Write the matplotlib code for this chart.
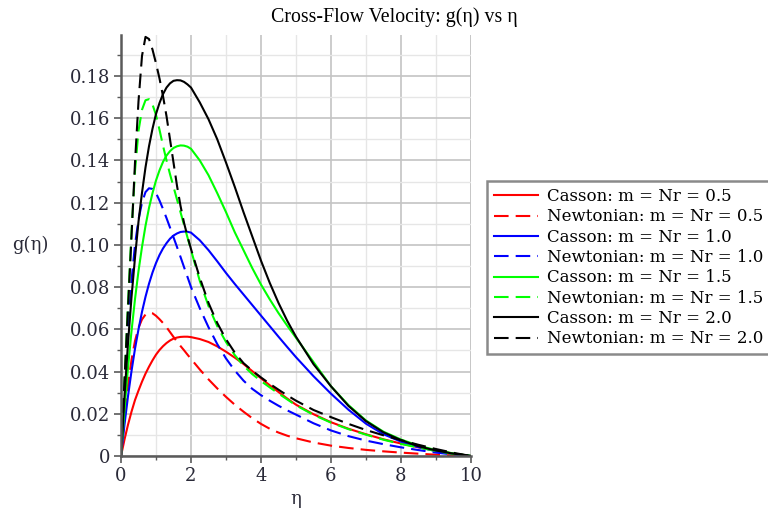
import matplotlib
matplotlib.use("Agg")
import matplotlib.pyplot as plt
from matplotlib.ticker import MultipleLocator, FuncFormatter

# eta grid the values were read on
eta = [0, 0.1, 0.2, 0.3, 0.4, 0.5, 0.6, 0.7, 0.8, 0.9,
       1.0, 1.1, 1.2, 1.3, 1.4, 1.5, 1.6, 1.7, 1.8, 1.9,
       2.0, 2.25, 2.5, 2.75, 3.0, 3.25, 3.5, 3.75, 4.0, 4.25, 4.5, 4.75,
       5.0, 5.5, 6.0, 6.5, 7.0, 7.5, 8.0, 8.5, 9.0, 9.5, 10.0]

# Casson (solid)
g_casson_05 = [0, 0.0078, 0.0148, 0.021, 0.0265, 0.031, 0.0352, 0.039, 0.0423, 0.0453,
               0.048, 0.0502, 0.052, 0.0535, 0.0547, 0.0556, 0.0561, 0.0564, 0.0565, 0.0565,
               0.0563, 0.0554, 0.054, 0.0519, 0.0494, 0.0466, 0.0436, 0.0402, 0.0368, 0.0335,
               0.0303, 0.0272, 0.0243, 0.0198, 0.016, 0.0129, 0.0103, 0.0079, 0.0059, 0.0041,
               0.0025, 0.0011, 0]
g_casson_10 = [0, 0.0149, 0.0283, 0.0402, 0.0508, 0.060, 0.0683, 0.0754, 0.0816, 0.0869,
               0.0914, 0.0952, 0.0983, 0.1008, 0.1029, 0.1044, 0.1054, 0.1061, 0.1063, 0.1062,
               0.1058, 0.1022, 0.0975, 0.0922, 0.0867, 0.0815, 0.0765, 0.0715, 0.0665, 0.0615,
               0.0565, 0.0516, 0.0468, 0.0378, 0.0295, 0.0219, 0.0153, 0.0103, 0.0068, 0.0042,
               0.0023, 0.001, 0]
g_casson_15 = [0, 0.022, 0.0418, 0.0591, 0.0743, 0.0876, 0.099, 0.109, 0.1175, 0.1245,
               0.1305, 0.1353, 0.1393, 0.1423, 0.1444, 0.1459, 0.1467, 0.1471, 0.147, 0.1465,
               0.1455, 0.140, 0.133, 0.1245, 0.1155, 0.106, 0.0975, 0.089, 0.0812, 0.0742,
               0.0677, 0.0617, 0.056, 0.0445, 0.033, 0.0241, 0.0168, 0.0115, 0.0078, 0.0049,
               0.0028, 0.0012, 0]
g_casson_20 = [0, 0.0284, 0.0534, 0.0752, 0.094, 0.111, 0.1247, 0.1367, 0.1467, 0.155,
               0.162, 0.1672, 0.1714, 0.1745, 0.1765, 0.1777, 0.178, 0.1779, 0.1772, 0.176,
               0.1745, 0.1675, 0.1595, 0.150, 0.139, 0.1275, 0.1155, 0.104, 0.0925, 0.082,
               0.0725, 0.064, 0.0565, 0.0435, 0.033, 0.0237, 0.0165, 0.0112, 0.0075, 0.0046,
               0.0026, 0.0011, 0]

# Newtonian (dashed)
g_newton_05 = [0, 0.018, 0.0335, 0.0455, 0.0545, 0.0607, 0.0647, 0.067, 0.0679, 0.0676,
               0.0664, 0.0648, 0.063, 0.061, 0.0587, 0.0564, 0.0542, 0.0521, 0.0501, 0.048,
               0.046, 0.041, 0.0363, 0.032, 0.028, 0.0243, 0.021, 0.0179, 0.0152, 0.0129,
               0.0111, 0.0096, 0.0084, 0.0064, 0.0049, 0.0038, 0.0029, 0.0022, 0.0016, 0.0011,
               0.0006, 0.0003, 0]
g_newton_10 = [0, 0.032, 0.061, 0.083, 0.100, 0.112, 0.120, 0.125, 0.1268, 0.1265,
               0.1245, 0.121, 0.117, 0.1127, 0.1082, 0.1036, 0.099, 0.0943, 0.0895, 0.0848,
               0.080, 0.070, 0.061, 0.053, 0.0462, 0.0405, 0.0357, 0.0318, 0.0288, 0.0262,
               0.0238, 0.0216, 0.0196, 0.0155, 0.0121, 0.0094, 0.0073, 0.0056, 0.0041, 0.0028,
               0.0016, 0.0007, 0]
g_newton_15 = [0, 0.036, 0.072, 0.106, 0.135, 0.154, 0.164, 0.1685, 0.169, 0.1665,
               0.1615, 0.1545, 0.147, 0.140, 0.1335, 0.1275, 0.1215, 0.1155, 0.1095, 0.1035,
               0.0975, 0.083, 0.071, 0.0615, 0.054, 0.0478, 0.0428, 0.0388, 0.0355, 0.0325,
               0.0296, 0.0268, 0.024, 0.0195, 0.0158, 0.0127, 0.0101, 0.0077, 0.0057, 0.004,
               0.0024, 0.001, 0]
g_newton_20 = [0, 0.036, 0.070, 0.104, 0.139, 0.168, 0.1895, 0.1985, 0.1975, 0.1925,
               0.186, 0.1788, 0.1705, 0.161, 0.150, 0.139, 0.128, 0.1185, 0.1105, 0.104,
               0.098, 0.0845, 0.0725, 0.063, 0.0553, 0.049, 0.044, 0.0404, 0.0372, 0.0342,
               0.0314, 0.0287, 0.0262, 0.0218, 0.0184, 0.0152, 0.0123, 0.0098, 0.0075, 0.0053,
               0.0033, 0.0015, 0]

series = [
    (g_casson_05, "red", "-", "Casson: m = Nr = 0.5"),
    (g_newton_05, "red", "--", "Newtonian: m = Nr = 0.5"),
    (g_casson_10, "blue", "-", "Casson: m = Nr = 1.0"),
    (g_newton_10, "blue", "--", "Newtonian: m = Nr = 1.0"),
    (g_casson_15, "#00ff00", "-", "Casson: m = Nr = 1.5"),
    (g_newton_15, "#00ff00", "--", "Newtonian: m = Nr = 1.5"),
    (g_casson_20, "black", "-", "Casson: m = Nr = 2.0"),
    (g_newton_20, "black", "--", "Newtonian: m = Nr = 2.0"),
]

fig = plt.figure(figsize=(7.68, 5.14), dpi=100)
fig.patch.set_facecolor("white")
ax = fig.add_axes([121/768, 1-456/514, 350/768, 421/514])

for g, col, ls, lab in series:
    line, = ax.plot(eta, g, color=col, linestyle=ls, linewidth=1.5, label=lab)
    if ls == "--":
        line.set_dashes((7, 3.4))

ax.set_xlim(0, 10)
ax.set_ylim(0, 0.1994)
ax.xaxis.set_major_locator(MultipleLocator(2))
ax.xaxis.set_minor_locator(MultipleLocator(1))
ax.yaxis.set_major_locator(MultipleLocator(0.02))
ax.yaxis.set_minor_locator(MultipleLocator(0.01))
ax.yaxis.set_major_formatter(FuncFormatter(lambda v, p: "0" if abs(v) < 1e-9 else "%.2f" % v))
ax.xaxis.set_major_formatter(FuncFormatter(lambda v, p: "%d" % round(v)))

ax.grid(which="major", color="#c4c4c4", linewidth=1.2)
ax.grid(which="minor", color="#e6e6e6", linewidth=1.0)
ax.set_axisbelow(True)

for s in ["top", "right"]:
    ax.spines[s].set_visible(False)
for s in ["left", "bottom"]:
    ax.spines[s].set_color("#5a5a5a")
    ax.spines[s].set_linewidth(1.8)
ax.axvline(10, color="#d0d0d0", linewidth=1.2, zorder=0)

ax.tick_params(which="major", direction="out", length=5, width=1.2, color="#5a5a5a",
               labelsize=13, labelcolor="#2a2a38", pad=3)
ax.tick_params(which="minor", direction="out", length=3, width=1.0, color="#5a5a5a")
for lbl in ax.get_xticklabels() + ax.get_yticklabels():
    lbl.set_family("DejaVu Serif")

fig.text(12/768, 1-245/514, "g(η)", family="DejaVu Serif", fontsize=13,
         color="#2a2a38", ha="left", va="center")
fig.text(296/768, 1-499/514, "η", family="DejaVu Serif", fontsize=13,
         color="#2a2a38", ha="center", va="center")
fig.text(394/768, 1-17/514, "Cross-Flow Velocity: g(η) vs η", family="Liberation Serif",
         fontsize=14.3, ha="center", va="center")

leg = fig.legend(loc="upper left", bbox_to_anchor=(487/768, 1-181/514),
                 prop={"family": "DejaVu Serif", "size": 12},
                 handlelength=2.65, handletextpad=0.55, labelspacing=0.2,
                 borderpad=0.42, borderaxespad=0, fancybox=False, framealpha=1)
leg.get_frame().set_edgecolor("#8a8a8a")
leg.get_frame().set_linewidth(1.8)

fig.savefig("out.png", dpi=100)
